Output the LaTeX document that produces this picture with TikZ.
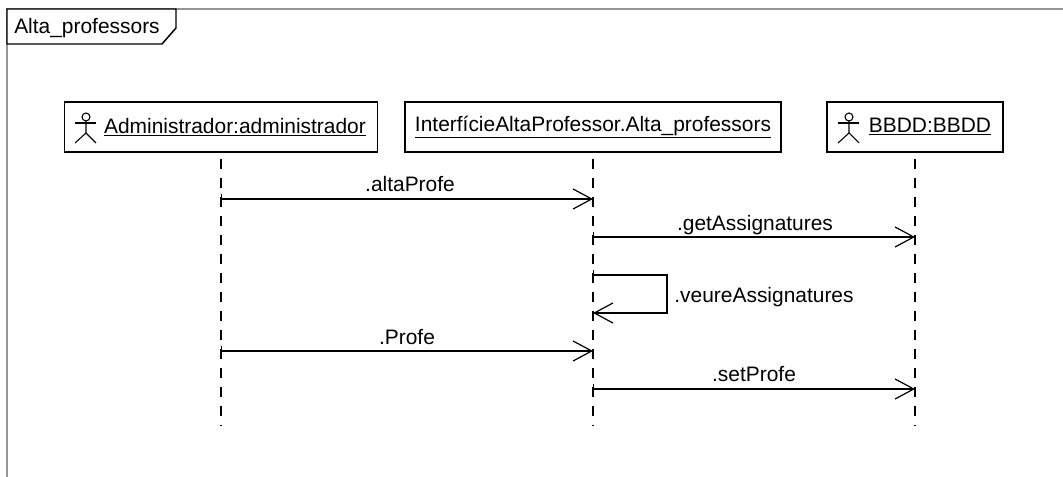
\documentclass[tikz,border=0pt]{standalone}
\usepackage{xcolor}
\usepackage{fontspec}
\setmainfont{Liberation Sans}
\usetikzlibrary{arrows.meta}

\tikzset{
  umlfont/.style={font=\fontsize{15.7}{18}\selectfont},
  objbox/.style={draw,line width=1.1pt,minimum height=37.5pt,inner sep=0pt},
  msgtext/.style={umlfont,inner sep=0pt},
  lifeline/.style={line width=1pt,dash pattern=on 7.5pt off 6.75pt,shorten <=4.5pt},
  msgline/.style={line width=1.1pt,{Bar[width=8pt,line width=0.9pt]}-{Straight Barb[length=14pt,width=15pt,line width=0.9pt]}},
  stickline/.style={line width=0.8pt}
}
\newcommand{\actorfig}[2]{
  \begin{scope}[shift={(#1,#2)}]
    \draw [stickline] (0,-6) circle (4);
    \draw [stickline] (-11,0) -- (10,0);
    \draw [stickline] (0,-2) -- (0,10) -- (-11,20);
    \draw [stickline] (0,10) -- (10,20);
  \end{scope}
}

\begin{document}
\begin{tikzpicture}[x=0.75pt,y=0.75pt,yscale=-1,xscale=1]
\useasboundingbox (0,0) rectangle (1063,477);

%Frame
\draw [color={rgb, 255:red, 150; green, 150; blue, 150 }, line width=1pt] (7,477) -- (7,9) -- (1063,9) ;
%Frame tag
\draw [line width=1.1pt, fill=white] (7,9) -- (176,9) -- (176,28) -- (162,44) -- (7,44) -- cycle ;
\node [msgtext, anchor=west] (tag) at (14,28) {Alta\_professors};

%Object boxes
\node [objbox, minimum width=234.75pt] (admin) at (221,127) {};
\node [objbox, minimum width=282pt] (inter) at (593,127) {};
\node [objbox, minimum width=132pt] (bbdd) at (915,127) {};

\actorfig{86}{123}
\actorfig{849}{123}

% Text Node
\node [msgtext] (adminlabel) at (235,127) {\underline{Administrador:administrador}};
\node [msgtext] (interlabel) at (593,127) {\underline{InterfícieAltaProfessor.Alta\_professors}};
\node [msgtext] (bbddlabel) at (930,127) {\underline{BBDD:BBDD}};

%Lifeline ends
\coordinate (adminend) at (221,425);
\coordinate (interend) at (593,425);
\coordinate (bbddend) at (915,425);

\draw [lifeline] (admin.south) -- (adminend);
\draw [lifeline] (inter.south) -- (interend);
\draw [lifeline] (bbdd.south) -- (bbddend);

%Message points
\coordinate (a1) at (221,199);
\coordinate (i1) at (593,199);
\coordinate (i2) at (593,237);
\coordinate (b2) at (915,237);
\coordinate (i3) at (593,275);
\coordinate (i4) at (593,313);
\coordinate (a5) at (221,351);
\coordinate (i5) at (593,351);
\coordinate (i6) at (593,389);
\coordinate (b6) at (915,389);

\draw [msgline] (a1) -- (i1);
\draw [msgline] (i2) -- (b2);
\draw [msgline] (i3) -- (667,275) -- (667,313) -- (i4);
\draw [msgline] (a5) -- (i5);
\draw [msgline] (i6) -- (b6);

% Text Node
\node [msgtext] (altaprofe) at (410,184) {.altaProfe};
\node [msgtext] (getassig) at (755,225) {.getAssignatures};
\node [msgtext] (veureassig) at (764,297) {.veureAssignatures};
\node [msgtext] (profe) at (407,337) {.Profe};
\node [msgtext] (setprofe) at (754,374) {.setProfe};

\end{tikzpicture}
\end{document}
